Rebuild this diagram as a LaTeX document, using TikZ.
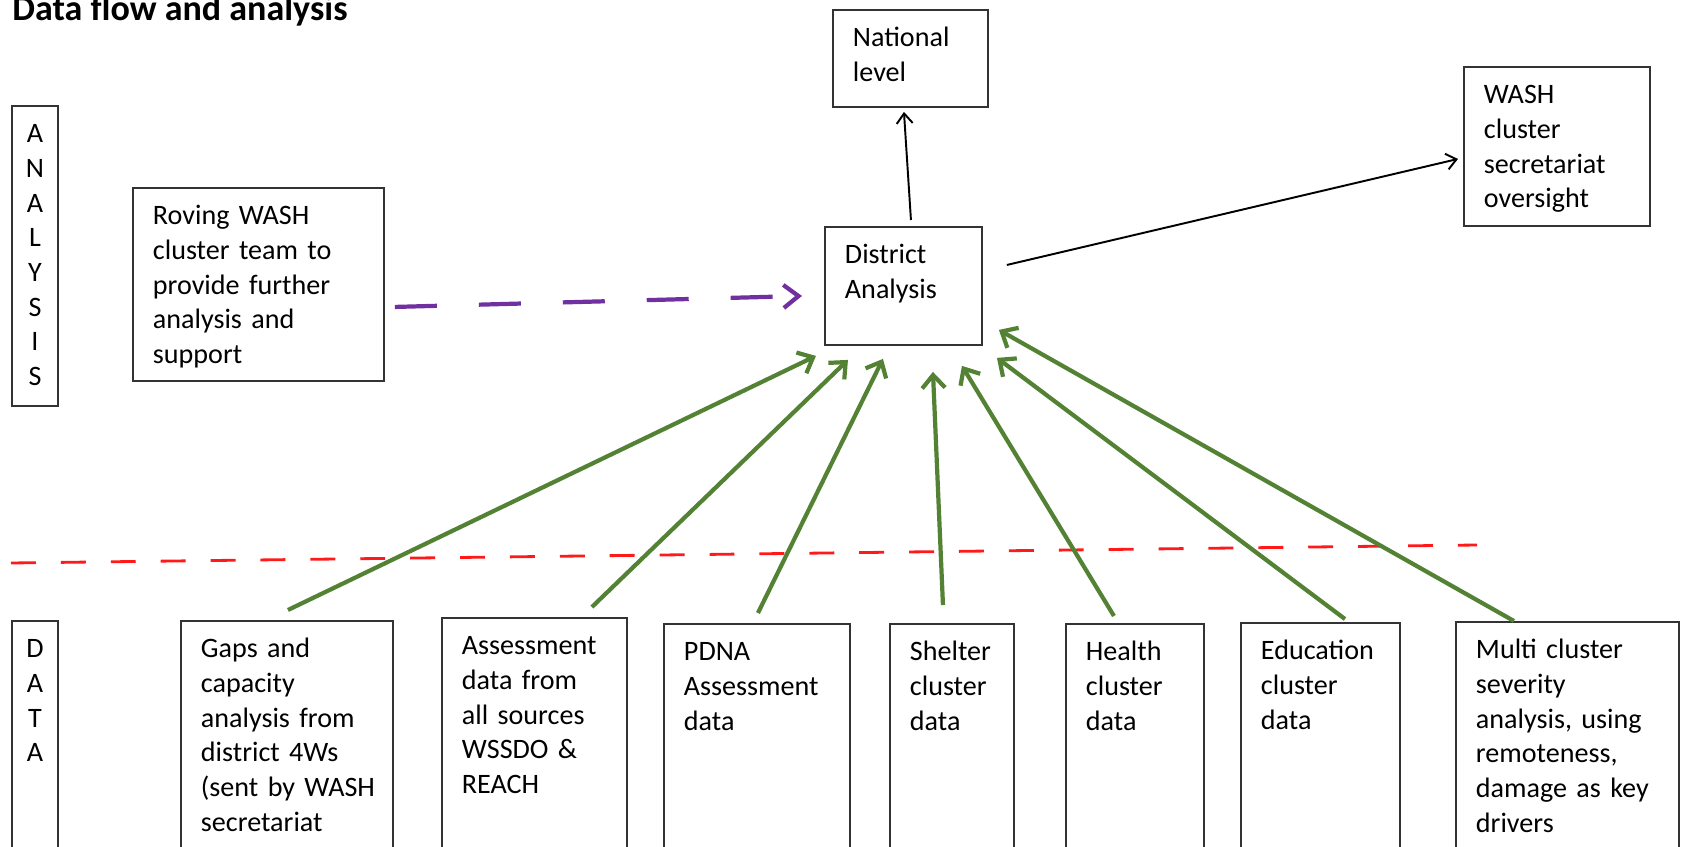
\documentclass[tikz,border=0pt]{standalone}
\usepackage{fontspec}
\setmainfont{Carlito}
\usetikzlibrary{arrows.meta}
\definecolor{flowgreen}{RGB}{84,130,53}
\definecolor{flowpurple}{RGB}{112,48,160}
\definecolor{splitred}{RGB}{255,25,25}
\hyphenpenalty=10000

\begin{document}
\begin{tikzpicture}[x=0.02cm, y=-0.02cm,
    box/.style={draw=black!80, line width=1.1pt, anchor=north west, inner xsep=0.4cm, inner ysep=0pt,
                text height=0.74cm, align=left, font=\fontsize{16}{19.7}\selectfont},
    bar/.style={box, inner xsep=0pt, text width=0.92cm, align=center},
    feed/.style={draw=flowgreen, line width=2.4pt, -{Straight Barb[length=0.26cm, width=0.46cm]}},
    report/.style={draw=black, line width=1.1pt, -{Straight Barb[length=0.2cm, width=0.32cm]}},
    support/.style={draw=flowpurple, line width=2.4pt, dash pattern=on 23.9pt off 23.9pt,
                    -{Straight Barb[length=0.3cm, width=0.46cm]}}]
    \useasboundingbox (0,0) rectangle (1681,847);
    \clip (0,0) rectangle (1681,847);

    \node (title) [anchor=base west, inner sep=0pt, font=\fontsize{20.5}{24}\selectfont\bfseries] at (12,21) {Data flow and analysis};

    % analysis level
    \node (analysisbar) [bar, text depth=5.26cm] at (11,105) {A\\N\\A\\L\\Y\\S\\I\\S};
    \node (roving)   [box, text width=4.22cm, text depth=3.12cm] at (132,187)  {Roving~WASH\\cluster~team~to\\provide~further\\analysis~and\\support};
    \node (national) [box, text width=2.30cm, text depth=1.20cm] at (832,9)    {National\\level};
    \node (district) [box, text width=2.34cm, text depth=1.62cm] at (824,226)  {District\\Analysis};
    \node (wash)     [box, text width=2.92cm, text depth=2.44cm] at (1463,66)  {WASH\\cluster\\secretariat\\oversight};

    % data level
    \node (databar)    [bar, text depth=4.06cm] at (11,620) {D\\A\\T\\A};
    \node (gaps)       [box, text width=3.44cm, text depth=4.06cm] at (180,620)  {Gaps~and\\capacity\\analysis~from\\district~4Ws\\(sent~by~WASH\\secretariat};
    \node (assessment) [box, text width=2.90cm, text depth=4.12cm] at (441,617)  {Assessment\\data~from\\all~sources\\WSSDO~\&\\REACH};
    \node (pdna)       [box, text width=2.92cm, text depth=4.00cm] at (663,623)  {PDNA\\Assessment\\data};
    \node (shelter)    [box, text width=1.68cm, text depth=4.00cm] at (889,623)  {Shelter\\cluster\\data};
    \node (health)     [box, text width=1.96cm, text depth=4.00cm] at (1065,623) {Health\\cluster\\data};
    \node (education)  [box, text width=2.38cm, text depth=4.02cm] at (1240,622) {Education\\cluster\\data};
    \node (multi)      [box, text width=3.66cm, text depth=4.04cm] at (1455,621) {Multi~cluster\\severity\\analysis,~using\\remoteness,\\damage~as~key\\drivers};

    % divider between the two levels
    \draw[splitred, line width=1.6pt, dash pattern=on 14.2pt off 14.2pt] (11,563) -- (1477,545);

    \draw[report] ([shift={(7.5,-6)}]district.north) -- ([shift={(-6.5,4)}]national.south);
    \draw[report] ([shift={(24,-21)}]district.east) -- ([shift={(-5,12.5)}]wash.west);
    \draw[support] ([shift={(10,22.5)}]roving.east) -- ([shift={(-22,10)}]district.west);

    \draw[feed] ([shift={(1,-10)}]gaps.north) -- ([shift={(-87.5,10)}]district.south);
    \draw[feed] ([shift={(57.5,-10)}]assessment.north) -- ([shift={(-55.5,14)}]district.south);
    \draw[feed] ([shift={(1,-10)}]pdna.north) -- ([shift={(-20.5,13)}]district.south);
    \draw[feed] ([shift={(-9,-18)}]shelter.north) -- ([shift={(29.5,26)}]district.south);
    \draw[feed] ([shift={(-21,-7)}]health.north) -- ([shift={(58.5,20)}]district.south);
    \draw[feed] ([shift={(24.5,-3)}]education.north) -- ([shift={(93.5,12)}]district.south);
    \draw[feed] ([shift={(-53.5,0)}]multi.north) -- ([shift={(16,-16)}]district.south east);
\end{tikzpicture}
\end{document}
